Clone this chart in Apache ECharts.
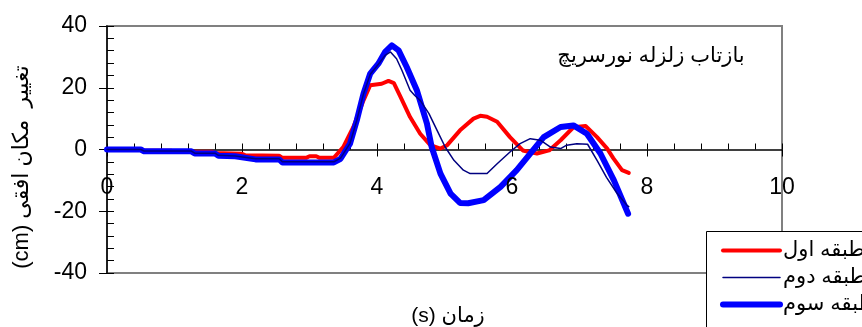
<!DOCTYPE html>
<html>
<head>
<meta charset="utf-8">
<script src="https://cdn.jsdelivr.net/npm/echarts@6/dist/echarts.min.js"></script>
<style>
html,body{margin:0;padding:0;background:#fff;}
#main{width:862px;height:327px;}
</style>
</head>
<body>
<div id="main"></div>
<script>
// [time (s), displacement (cm)]
var floor1 = [[0,0],[0.5,0],[0.55,-0.4],[0.95,-0.4],[1.0,-0.7],[1.55,-0.7],[1.6,-1.1],[2.0,-1.4],[2.05,-1.9],[2.55,-2.0],[2.6,-2.7],[2.95,-2.7],[3.0,-2.2],[3.1,-2.2],[3.15,-2.7],[3.36,-2.7],
	[3.5,0.8],[3.65,7.3],[3.8,15.9],[3.9,20.8],[4.07,21.3],[4.17,22.2],[4.25,21.5],[4.35,17],[4.49,10.5],[4.64,5.1],[4.79,1.4],[4.94,0.3],[5.04,1.4],[5.23,6.2],[5.43,10],[5.53,10.9],[5.63,10.6],
	[5.78,9.0],[5.97,4],[6.16,-0.3],[6.37,-1.3],[6.55,-0.3],[6.72,3],[6.91,7.2],[7.09,7.6],[7.26,4],[7.41,0.3],[7.5,-2.8],[7.63,-6.7],[7.73,-7.6]];
var floor2 = [[0,0],[0.5,0],[0.55,-0.5],[1.25,-0.5],[1.3,-1.2],[1.6,-1.2],[1.65,-1.9],[1.9,-2.1],[2.2,-3.0],[2.55,-3.0],[2.6,-4.0],[3.36,-4.0],[3.46,-2.8],[3.6,2],[3.7,9.4],[3.8,18],
	[3.9,24.4],[4.02,27.6],[4.12,30.5],[4.2,31.6],[4.29,29.4],[4.37,25.6],[4.49,19.2],[4.56,17.5],[4.64,15.9],[4.77,11.6],[4.89,6.2],[5.01,0.8],[5.14,-3.5],[5.28,-6.7],[5.38,-7.8],[5.63,-7.8],
	[5.78,-4.6],[5.97,-0.8],[6.12,1.9],[6.27,3.5],[6.42,3],[6.57,0.8],[6.72,0.3],[6.81,1.4],[6.96,1.9],[7.12,1.7],[7.26,-3.5],[7.4,-9],[7.55,-14],[7.7,-18],[7.73,-18.5]];
var floor3 = [[0,0],[0.5,0],[0.55,-0.6],[1.25,-0.6],[1.3,-1.3],[1.6,-1.3],[1.65,-2],[1.9,-2.2],[2.2,-3.2],[2.55,-3.2],[2.6,-4.2],[3.36,-4.2],[3.46,-3],[3.6,1.9],[3.7,9.4],[3.8,18.1],
	[3.9,24.6],[4.02,27.8],[4.12,31.6],[4.22,33.7],[4.32,32.1],[4.44,26.7],[4.59,19.2],[4.74,8.4],[4.81,0.8],[4.94,-7.8],[5.09,-14.3],[5.23,-17.3],[5.35,-17.4],[5.58,-16.4],[5.83,-12.1],
	[6.07,-6.7],[6.27,-1.3],[6.47,4],[6.72,7.3],[6.91,7.8],[7.11,5.1],[7.31,-1.3],[7.51,-10],[7.72,-20.8]];
var seriesNames = ['طبقه اول', 'طبقه دوم', 'طبقه سوم'];
var xTickLabels = [0, 2, 4, 6, 8, 10];
var chartTitle = 'بازتاب زلزله نورسریچ';
var xName = '(s) زمان';
var yName = '(cm) تغییر  مکان افقی';

var font = "'Liberation Sans', Arial, 'DejaVu Sans', sans-serif";
var myChart = echarts.init(document.getElementById('main'));
myChart.setOption({
	animation: false,
	backgroundColor: '#fff',
	grid: {
		left: 107, right: 80, top: 26, bottom: 54,
		show: true,
		borderColor: '#808080',
		borderWidth: 2,
		containLabel: false
	},
	xAxis: [{
		//minor ticks, inside (line at y=0)
		type: 'value', min: 0, max: 10, interval: 0.4,
		axisLine: { show: true, onZero: true, onZeroAxisIndex: 0, lineStyle: { color: '#000', width: 1.5 } },
		axisTick: { show: true, inside: true, length: 6, lineStyle: { color: '#000', width: 1 } },
		axisLabel: { show: false },
		splitLine: { show: false }
	}, {
		//major ticks, outside
		type: 'value', position: 'bottom', min: 0, max: 10, interval: 2,
		axisLine: { show: true, onZero: true, onZeroAxisIndex: 0, lineStyle: { opacity: 0 } },
		axisTick: { show: true, inside: false, length: 7, lineStyle: { color: '#000', width: 1 } },
		axisLabel: { show: false },
		splitLine: { show: false }
	}],
	yAxis: [{
		type: 'value', min: -40, max: 40, interval: 4,
		axisLine: { onZero: false, lineStyle: { color: '#000', width: 1.5 } },
		axisTick: { show: true, inside: true, length: 7, lineStyle: { color: '#000', width: 1 } },
		axisLabel: { show: false },
		splitLine: { show: false }
	}, {
		type: 'value', position: 'left', min: -40, max: 40, interval: 20,
		axisLine: { show: false, onZero: false },
		axisTick: { show: true, inside: false, length: 8, lineStyle: { color: '#000', width: 1 } },
		axisLabel: { show: true, margin: 20, fontSize: 23, color: '#000', fontFamily: font },
		splitLine: { show: false }
	}],
	legend: {
		orient: 'vertical',
		left: 720, top: 240,
		padding: 0,
		itemWidth: 57, itemHeight: 14, itemGap: 6,
		z: 20,
		itemStyle: { opacity: 0 },
		textStyle: { fontSize: 21, lineHeight: 20, color: '#000', fontFamily: font, padding: [0, 0, 0, -2] },
		data: [
			{ name: seriesNames[0], lineStyle: { width: 4 } },
			{ name: seriesNames[1], lineStyle: { width: 1.5 } },
			{ name: seriesNames[2], lineStyle: { width: 6 } }
		]
	},
	series: [{
		name: seriesNames[0], type: 'line', data: floor1,
		showSymbol: false, symbol: 'none', z: 2,
		lineStyle: { color: '#ff0000', width: 4, cap: 'round', join: 'round' },
		itemStyle: { color: '#ff0000' }
	}, {
		name: seriesNames[1], type: 'line', data: floor2,
		showSymbol: false, symbol: 'none', z: 4,
		lineStyle: { color: '#000080', width: 1.5, cap: 'round', join: 'round' },
		itemStyle: { color: '#000080' }
	}, {
		name: seriesNames[2], type: 'line', data: floor3,
		showSymbol: false, symbol: 'none', z: 3,
		lineStyle: { color: '#0000ff', width: 6, cap: 'round', join: 'round' },
		itemStyle: { color: '#0000ff' }
	}]
});

//x tick labels sit under the zero line
var elements = [{
	type: 'rect', z: 10,
	shape: { x: 706.5, y: 231.5, width: 200, height: 120 },
	style: { fill: '#fff', stroke: '#000', lineWidth: 1 }
}, {
	type: 'text', z: 10,
	x: 651, y: 56,
	style: { text: chartTitle, fontSize: 21, fill: '#000', fontFamily: font, align: 'center', verticalAlign: 'middle' }
}, {
	type: 'text', z: 10,
	x: 448, y: 316,
	style: { text: xName, fontSize: 21, fill: '#000', fontFamily: font, align: 'center', verticalAlign: 'middle' }
}, {
	type: 'text', z: 10,
	x: 22, y: 167, rotation: Math.PI / 2,
	style: { text: yName, fontSize: 22, fill: '#000', fontFamily: font, align: 'center', verticalAlign: 'middle' }
}];
xTickLabels.forEach(function (v) {
	var p = myChart.convertToPixel({ xAxisIndex: 0, yAxisIndex: 0 }, [v, 0]);
	elements.push({
		type: 'text', z: 5,
		x: p[0], y: p[1] + 38,
		style: { text: String(v), fontSize: 23, fill: '#000', fontFamily: font, align: 'center', verticalAlign: 'middle' }
	});
});
myChart.setOption({ graphic: elements });
</script>
</body>
</html>
